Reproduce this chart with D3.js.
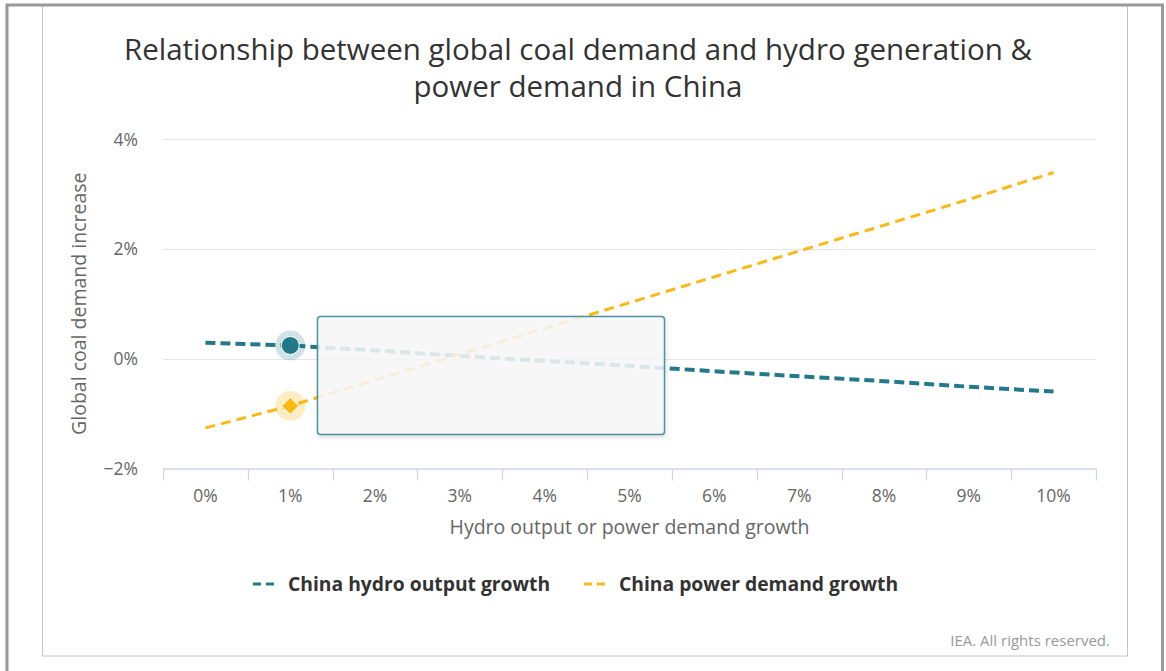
<!DOCTYPE html>
<html>
<head>
<meta charset="utf-8">
<script src="https://cdn.jsdelivr.net/npm/d3@7"></script>
<style>
  html, body { margin: 0; padding: 0; background: #fff; }
  svg { display: block; font-family: "Open Sans", sans-serif; }
</style>
</head>
<body>
<svg id="chart" width="1166" height="671"></svg>
<script>
// Growth scenarios on the x axis
const categories = ["0%", "1%", "2%", "3%", "4%", "5%", "6%", "7%", "8%", "9%", "10%"];
// Global coal demand increase (%) for each scenario
const hydroValues = [0.29, 0.24, 0.15, 0.05, -0.04, -0.13, -0.23, -0.32, -0.41, -0.51, -0.60];
const powerValues = [-1.26, -0.86, -0.39, 0.08, 0.55, 1.02, 1.49, 1.96, 2.43, 2.90, 3.39];
const yTicks = [-2, 0, 2, 4];
const seriesNames = ["China hydro output growth", "China power demand growth"];
const titleLines = ["Relationship between global coal demand and hydro generation &", "power demand in China"];
const hoverIndex = 1;

const teal = "#23798c";
const gold = "#fdb913";

const svg = d3.select("#chart");

// frame
svg.append("rect").attr("x", 42.5).attr("y", 5).attr("width", 1085).attr("height", 651)
  .attr("fill", "#fff").attr("stroke", "#c4c4c4").attr("stroke-width", 1);
svg.append("path").attr("d", "M7,671 V5 H1162.5 V671")
  .attr("fill", "none").attr("stroke", "#999").attr("stroke-width", 3);

const plot = { left: 163, right: 1096, top: 139, bottom: 468.5 };

const x = d3.scaleBand().domain(categories).range([plot.left, plot.right]);
const y = d3.scaleLinear().domain([-2, 4]).range([plot.bottom, plot.top]);
const cx = c => x(c) + x.bandwidth() / 2;

// title, one text per line
svg.append("g").selectAll("text").data(titleLines).join("text")
  .attr("x", 578).attr("y", (d, i) => 60 + i * 37)
  .attr("text-anchor", "middle").attr("fill", "#333").attr("font-size", 29.5)
  .text(d => d);

// gridlines
svg.append("g").selectAll("line").data(yTicks.filter(d => d !== -2)).join("line")
  .attr("x1", plot.left).attr("x2", plot.right)
  .attr("y1", d => Math.round(y(d)) + 0.5).attr("y2", d => Math.round(y(d)) + 0.5)
  .attr("stroke", "#e6e6e6").attr("stroke-width", 1);

// y axis labels
const yAxis = d3.axisLeft(y).tickValues(yTicks).tickSize(0).tickPadding(0)
  .tickFormat(d => (d < 0 ? "\u2212" + Math.abs(d) : d) + "%");
const gy = svg.append("g").attr("transform", `translate(${plot.left - 25},0)`).call(yAxis);
gy.select(".domain").remove();
gy.selectAll("text").attr("font-family", "Open Sans, sans-serif").attr("font-size", 17.5)
  .attr("fill", "#666").attr("dy", "0.35em");

svg.append("text")
  .attr("transform", `translate(86,${(plot.top + plot.bottom) / 2}) rotate(-90)`)
  .attr("text-anchor", "middle").attr("fill", "#666").attr("font-size", 19.5)
  .text("Global coal demand increase");

// x axis with boundary ticks
const gx = svg.append("g").attr("transform", `translate(0,${plot.bottom})`);
gx.append("line").attr("x1", plot.left).attr("x2", plot.right).attr("y1", 0.5).attr("y2", 0.5)
  .attr("stroke", "#ccd6eb").attr("stroke-width", 1.5);
const bounds = categories.map(c => x(c)).concat([plot.right]);
gx.selectAll("line.tick").data(bounds).join("line").attr("class", "tick")
  .attr("x1", d => Math.round(d) + 0.5).attr("x2", d => Math.round(d) + 0.5)
  .attr("y1", 0).attr("y2", 12).attr("stroke", "#ccd6eb").attr("stroke-width", 1.2);
gx.selectAll("text").data(categories).join("text")
  .attr("x", d => cx(d)).attr("y", 33).attr("text-anchor", "middle")
  .attr("fill", "#666").attr("font-size", 17.5).text(d => d);

svg.append("text").attr("x", (plot.left + plot.right) / 2).attr("y", 534)
  .attr("text-anchor", "middle").attr("fill", "#666").attr("font-size", 19.5)
  .text("Hydro output or power demand growth");

// series lines
const line = d3.line().x((d, i) => cx(categories[i])).y(d => y(d));
svg.append("path").datum(hydroValues).attr("d", line).attr("fill", "none")
  .attr("stroke", teal).attr("stroke-width", 4).attr("stroke-dasharray", "10,5");
svg.append("path").datum(powerValues).attr("d", line).attr("fill", "none")
  .attr("stroke", gold).attr("stroke-width", 3).attr("stroke-dasharray", "10,6");

// hover markers
const hx = cx(categories[hoverIndex]);
const hyH = y(hydroValues[hoverIndex]);
const hyP = y(powerValues[hoverIndex]);
svg.append("circle").attr("cx", hx).attr("cy", hyH).attr("r", 15).attr("fill", teal).attr("opacity", 0.22);
svg.append("circle").attr("cx", hx).attr("cy", hyH).attr("r", 9).attr("fill", teal)
  .attr("stroke", "#fff").attr("stroke-width", 1);
svg.append("circle").attr("cx", hx).attr("cy", hyP).attr("r", 15).attr("fill", gold).attr("opacity", 0.25);
svg.append("path").attr("transform", `translate(${hx},${hyP})`)
  .attr("d", "M0,-8.5 L8.5,0 L0,8.5 L-8.5,0 Z").attr("fill", gold)
  .attr("stroke", "#fff").attr("stroke-width", 1);

// tooltip panel
const defs = svg.append("defs");
const f = defs.append("filter").attr("id", "shadow").attr("x", "-10%").attr("y", "-10%")
  .attr("width", "130%").attr("height", "140%");
f.append("feDropShadow").attr("dx", 1).attr("dy", 2).attr("stdDeviation", 2)
  .attr("flood-color", "#000").attr("flood-opacity", 0.15);
svg.append("rect").attr("x", 317.5).attr("y", 316.5).attr("width", 347).attr("height", 118)
  .attr("rx", 3).attr("fill", "rgba(248,248,248,0.85)").attr("stroke", "#4a92a2")
  .attr("stroke-width", 1.5).attr("filter", "url(#shadow)");

// legend
const legend = svg.append("g").attr("font-size", 19.3).attr("font-weight", "bold").attr("fill", "#333");
const items = [
  { name: seriesNames[0], color: teal, x: 253 },
  { name: seriesNames[1], color: gold, x: 584 }
];
items.forEach(it => {
  legend.append("line").attr("x1", it.x).attr("x2", it.x + 22).attr("y1", 584).attr("y2", 584)
    .attr("stroke", it.color).attr("stroke-width", 3).attr("stroke-dasharray", "8,5");
  legend.append("text").attr("x", it.x + 35).attr("y", 591).text(it.name);
});

// credits
svg.append("text").attr("x", 1110).attr("y", 646).attr("text-anchor", "end")
  .attr("fill", "#999").attr("font-size", 15).text("IEA. All rights reserved.");
</script>
</body>
</html>
